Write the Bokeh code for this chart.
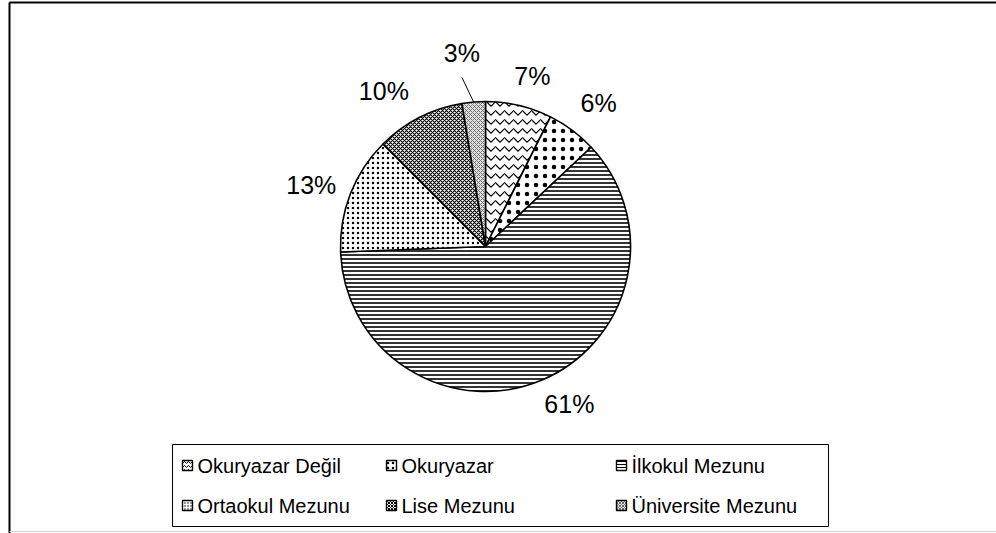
import math
from bokeh.plotting import figure
from bokeh.models import Range1d, ColumnDataSource
from bokeh.core.properties import value
from bokeh.embed import file_html
from bokeh.resources import INLINE

# ---- data ----
categories = ["Okuryazar Değil", "Okuryazar", "İlkokul Mezunu",
              "Ortaokul Mezunu", "Lise Mezunu", "Üniversite Mezunu"]
shares = [7.4, 5.6, 61.4, 13.1, 9.9, 2.6]
pct_labels = ["7%", "6%", "61%", "13%", "10%", "3%"]

# ---- styles ----
hatch_patterns = ["horizontal_wave", "dot", "horizontal_line", "dot", "diagonal_cross", "diagonal_cross"]
hatch_scales = [9, 9, 4, 5, 4, 4]
hatch_weights = [1.2, 0.4, 1.6, 1.3, 1.1, 1.0]
fill_colors = ["white", "white", "white", "white", "white", "#e6e6e6"]
hatch_colors = ["black", "black", "black", "black", "black", "#6a6a6a"]
leg_scales = [4, 5, 3, 3, 3, 3]
label_turn_deg = [2.0, 1.6, -5.4, -2.0, -6.0, -2.3]   # label placement nudges
label_push = [0, 0, -4, -6, 2, 20]

W, H = 996, 533
FONT = "Liberation Sans"


def Y(py):
    # page y -> data y
    return H - py


p = figure(width=W, height=H, output_backend="svg", toolbar_location=None,
           x_range=Range1d(0, W), y_range=Range1d(0, H),
           min_border=0, outline_line_color=None)
p.axis.visible = False
p.grid.visible = False
p.background_fill_color = "white"

# outer chart frame
p.line([9, W], [Y(2), Y(2)], line_color="black", line_width=2)
p.line([9, 9], [Y(2), Y(H)], line_color="black", line_width=2)
p.line([9, W], [Y(531), Y(531)], line_color="#d0d0d0", line_width=1)

# ---- pie ----
cx, cy, r = 485, Y(246), 145
total = sum(shares)
starts, ends, mids = [], [], []
c = 0.0
for s in shares:
    a0 = math.pi / 2 - 2 * math.pi * c / total
    c += s
    a1 = math.pi / 2 - 2 * math.pi * c / total
    starts.append(a0)
    ends.append(a1)
    mids.append((a0 + a1) / 2)

src = ColumnDataSource(dict(start=starts, end=ends, fill=fill_colors,
                            hp=hatch_patterns, hs=hatch_scales, hw=hatch_weights,
                            hc=hatch_colors))
p.wedge(x=cx, y=cy, radius=r, start_angle="start", end_angle="end",
        direction="clock", source=src, fill_color="fill",
        hatch_pattern="hp", hatch_scale="hs", hatch_weight="hw", hatch_color="hc",
        line_color="black", line_width=1.6)

# ---- percentage labels ----
fs = 25
lx, ly = [], []
lead_x, lead_y = [], []
for lab, s, m, turn, push in zip(pct_labels, shares, mids, label_turn_deg, label_push):
    w = 0.5 * fs * (1.0 + 0.556 * (len(lab) - 1)) * 0.98
    h = 0.4 * fs
    extra = abs(math.cos(m)) * w + abs(math.sin(m)) * h
    d = r + 18 + extra + push
    a = m - math.radians(turn)
    x = cx + d * math.cos(a)
    y = cy + d * math.sin(a)
    lx.append(x)
    ly.append(y)
    if s < 3:
        lead_x.append([cx + r * math.cos(m), x])
        lead_y.append([cy + r * math.sin(m), y - 24])

p.text(x=lx, y=ly, text=pct_labels, text_font=value(FONT),
       text_font_size=f"{fs}px", text_align="center", text_baseline="middle",
       text_color="black")
if lead_x:
    p.multi_line(xs=lead_x, ys=lead_y, line_color="black", line_width=1)

# ---- legend ----
box_l, box_r, box_t, box_b = 172, 828, 444, 526
p.quad(left=box_l, right=box_r, top=Y(box_t), bottom=Y(box_b),
       fill_color="white", line_color="black", line_width=1)
col_x = [187, 391, 621]
row_y = [465, 505]
mx, my, tx, ty = [], [], [], []
for i, cat in enumerate(categories):
    col, row = i % 3, i // 3
    mx.append(col_x[col])
    my.append(Y(row_y[row]))
    tx.append(col_x[col] + 10)
    ty.append(Y(row_y[row]))
leg_src = ColumnDataSource(dict(x=mx, y=my, fill=fill_colors, hp=hatch_patterns,
                                hs=leg_scales, hc=hatch_colors))
p.rect(x="x", y="y", width=10, height=10, source=leg_src, fill_color="fill",
       hatch_pattern="hp", hatch_scale="hs", hatch_weight=1, hatch_color="hc",
       line_color="black", line_width=1.4)
p.text(x=tx, y=ty, text=categories, text_font=value(FONT), text_font_size="20px",
       text_align="left", text_baseline="middle", text_color="black")

open("out.html", "w").write(file_html(p, INLINE))
